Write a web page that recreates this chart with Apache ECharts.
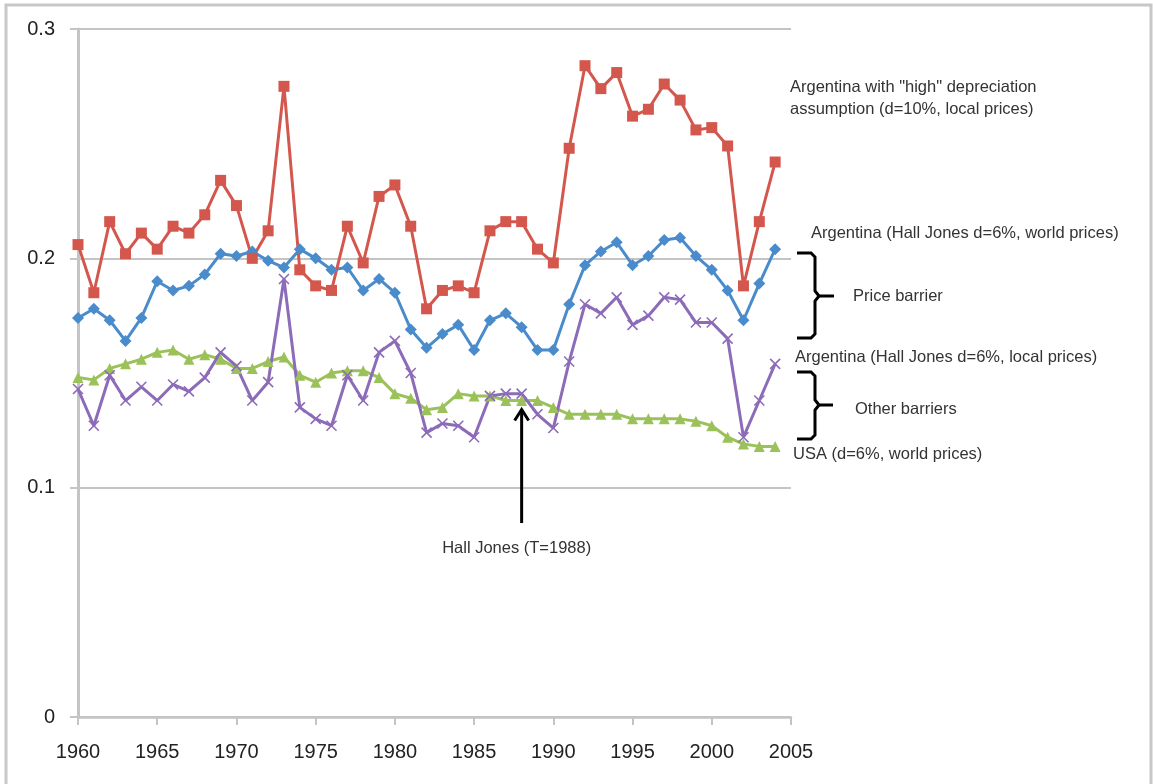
<!DOCTYPE html>
<html>
<head>
<meta charset="utf-8">
<script src="https://cdn.jsdelivr.net/npm/echarts@6/dist/echarts.min.js"></script>
<style>
html,body{margin:0;padding:0;background:#fff;}
#chart{width:1153px;height:784px;}
</style>
</head>
<body>
<div id="chart"></div>
<script>
const years = [1960,1961,1962,1963,1964,1965,1966,1967,1968,1969,1970,1971,1972,1973,1974,1975,1976,1977,1978,1979,1980,1981,1982,1983,1984,1985,1986,1987,1988,1989,1990,1991,1992,1993,1994,1995,1996,1997,1998,1999,2000,2001,2002,2003,2004];

const argHighDep = [0.206,0.185,0.216,0.202,0.211,0.204,0.214,0.211,0.219,0.234,0.223,0.200,0.212,0.275,0.195,0.188,0.186,0.214,0.198,0.227,0.232,0.214,0.178,0.186,0.188,0.185,0.212,0.216,0.216,0.204,0.198,0.248,0.284,0.274,0.281,0.262,0.265,0.276,0.269,0.256,0.257,0.249,0.188,0.216,0.242];

const argWorld = [0.174,0.178,0.173,0.164,0.174,0.190,0.186,0.188,0.193,0.202,0.201,0.203,0.199,0.196,0.204,0.200,0.195,0.196,0.186,0.191,0.185,0.169,0.161,0.167,0.171,0.160,0.173,0.176,0.170,0.160,0.160,0.180,0.197,0.203,0.207,0.197,0.201,0.208,0.209,0.201,0.195,0.186,0.173,0.189,0.204];

const usaWorld = [0.148,0.147,0.152,0.154,0.156,0.159,0.160,0.156,0.158,0.156,0.152,0.152,0.155,0.157,0.149,0.146,0.150,0.151,0.151,0.148,0.141,0.139,0.134,0.135,0.141,0.140,0.140,0.138,0.138,0.138,0.135,0.132,0.132,0.132,0.132,0.130,0.130,0.130,0.130,0.129,0.127,0.122,0.119,0.118,0.118];

const argLocal = [0.143,0.127,0.149,0.138,0.144,0.138,0.145,0.142,0.148,0.159,0.153,0.138,0.146,0.191,0.135,0.130,0.127,0.149,0.138,0.159,0.164,0.150,0.124,0.128,0.127,0.122,0.140,0.141,0.141,0.132,0.126,0.155,0.180,0.176,0.183,0.171,0.175,0.183,0.182,0.172,0.172,0.165,0.122,0.138,0.154];

const seriesNames = [
  'Argentina with "high" depreciation assumption (d=10%, local prices)',
  'Argentina (Hall Jones d=6%, world prices)',
  'USA (d=6%, world prices)',
  'Argentina (Hall Jones d=6%, local prices)'
];
const yTicks = [0, 0.1, 0.2, 0.3];
const xTickLabels = [1960,1965,1970,1975,1980,1985,1990,1995,2000,2005];
const arrowYear = 1988;

const RED = '#d4574d', BLUE = '#4a8ccb', GREEN = '#9bc25a', PURPLE = '#8c6bb8';
const FONT = '"Liberation Sans", "DejaVu Sans", sans-serif';

function pairs(vals){ return years.map((y,i)=>[y, vals[i]]); }

const chart = echarts.init(document.getElementById('chart'), null, {renderer:'canvas'});

function lineSeries(name, vals, color, symbol, size, extra){
  return Object.assign({
    name: name,
    type: 'line',
    data: pairs(vals),
    symbol: symbol,
    symbolSize: size,
    showSymbol: true,
    animation: false,
    lineStyle: {color: color, width: 3},
    itemStyle: {color: color},
    emphasis: {disabled: true}
  }, extra || {});
}

const option = {
  animation: false,
  backgroundColor: '#ffffff',
  grid: {left: 78, right: 362, top: 29, bottom: 67, containLabel: false},
  xAxis: {
    type: 'value',
    min: 1960, max: 2005, interval: 5,
    axisLine: {show: true, lineStyle: {color: '#c4c4c4', width: 2.5}},
    axisTick: {show: true, length: 8, lineStyle: {color: '#c4c4c4', width: 2}},
    splitLine: {show: false},
    axisLabel: {
      margin: 25, fontSize: 20, color: '#222', fontFamily: FONT,
      formatter: v => xTickLabels.indexOf(Math.round(v)) >= 0 ? String(Math.round(v)) : ''
    }
  },
  yAxis: {
    type: 'value',
    min: 0, max: 0.3, interval: 0.1,
    axisLine: {show: true, lineStyle: {color: '#c4c4c4', width: 3}},
    axisTick: {show: true, length: 8, lineStyle: {color: '#c4c4c4', width: 2}},
    splitLine: {show: true, lineStyle: {color: '#c4c4c4', width: 2}},
    axisLabel: {
      margin: 23, fontSize: 20, color: '#222', fontFamily: FONT,
      formatter: v => {
        const t = yTicks.find(k => Math.abs(k - v) < 1e-9);
        return t === undefined ? '' : String(t);
      }
    }
  },
  series: [
    lineSeries(seriesNames[2], usaWorld, GREEN, 'triangle', 11),
    lineSeries(seriesNames[1], argWorld, BLUE, 'diamond', 12),
    lineSeries(seriesNames[0], argHighDep, RED, 'rect', 11),
    lineSeries(seriesNames[3], argLocal, PURPLE, 'path://M0,0 L10,10 M10,0 L0,10', 10, {
      itemStyle: {color: PURPLE, borderColor: PURPLE, borderWidth: 1.6}
    })
  ]
};
chart.setOption(option);

// Annotations
const arrowIdx = years.indexOf(arrowYear);
const tip = chart.convertToPixel({xAxisIndex:0, yAxisIndex:0}, [arrowYear, usaWorld[arrowIdx]]);
const ax = tip[0], ay = tip[1] + 9;
const txt = (t, x, y, align) => ({
  type: 'text', x: x, y: y, silent: true,
  style: {text: t, fill: '#333', fontSize: 16.5, fontFamily: FONT, textAlign: align || 'left', textVerticalAlign: 'middle'}
});
const stroke = {fill: 'none', stroke: '#000', lineWidth: 3};
function brace(top, bottom, mid, tipX){
  return [
    {type: 'polyline', silent: true, shape: {points: [[797,top],[811,top],[815,top+4],[815,mid-5],[819,mid],[tipX,mid]]}, style: stroke},
    {type: 'polyline', silent: true, shape: {points: [[819,mid],[815,mid+5],[815,bottom-4],[811,bottom],[797,bottom]]}, style: stroke}
  ];
}

chart.setOption({
  graphic: [
    {type: 'rect', shape: {x: 6, y: 5, width: 1145, height: 800}, style: {fill: 'none', stroke: '#c8c8c8', lineWidth: 3}, silent: true, z: -10},
    txt('Argentina with "high" depreciation', 790, 87),
    txt('assumption (d=10%, local prices)', 790, 109),
    txt('Argentina (Hall Jones d=6%, world prices)', 811, 233),
    txt('Price barrier', 853, 296),
    txt('Argentina (Hall Jones d=6%, local prices)', 795, 357),
    txt('Other barriers', 855, 409),
    txt('USA (d=6%, world prices)', 793, 454),
    txt('Hall Jones (T=1988)', ax - 5, 548, 'center'),
    ...brace(253, 338, 296, 834),
    ...brace(372, 439, 405, 833),
    {type: 'line', silent: true, shape: {x1: ax, y1: 523, x2: ax, y2: ay + 1}, style: {stroke: '#000', lineWidth: 3}},
    {type: 'polyline', silent: true, shape: {points: [[ax-7, ay+11],[ax, ay],[ax+7, ay+11]]}, style: stroke}
  ]
});
</script>
</body>
</html>
